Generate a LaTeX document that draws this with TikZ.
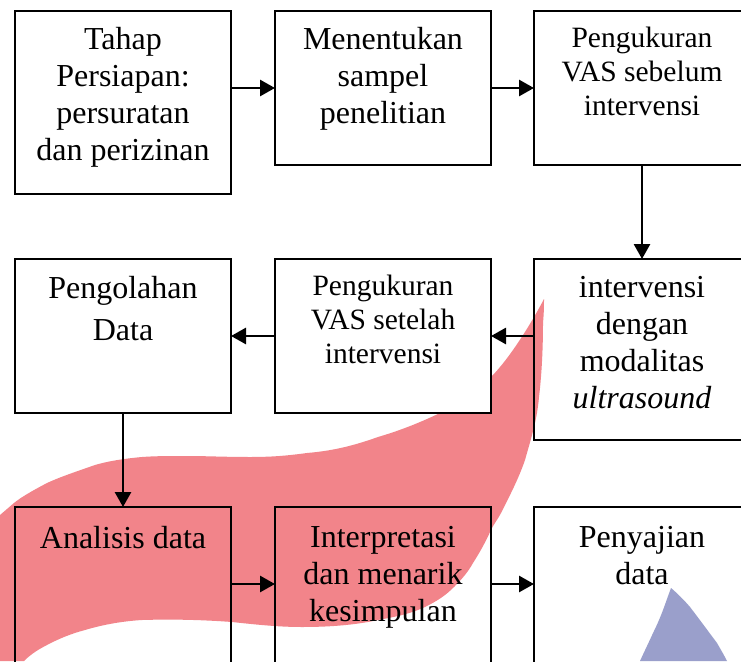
\documentclass[tikz,border=0pt]{standalone}
\usepackage{fontspec}
\setmainfont{Liberation Serif}
\usetikzlibrary{arrows.meta}
\definecolor{ribbon}{HTML}{F2848A}
\definecolor{drop}{HTML}{9A9FCB}
\newcommand{\bigtxt}{\fontsize{32}{37}\selectfont}
\newcommand{\smalltxt}{\fontsize{29.5}{33.7}\selectfont}
\tikzset{
 boxnode/.style={draw=black,line width=2.8pt,minimum width=216pt,inner sep=0pt,outer sep=0pt,anchor=north west},
 txtbig/.style={anchor=north,align=center,inner sep=0pt,font=\bigtxt},
 txtsmall/.style={anchor=north,align=center,inner sep=0pt,font=\smalltxt},
 flow/.style={draw=black,line width=2.8pt,-{Triangle[length=15pt,width=16pt]}},
}
\begin{document}
\begin{tikzpicture}[x=1pt,y=-1pt]
\useasboundingbox (0,0) rectangle (741,661);
\clip (0,0) rectangle (741,661);
\fill[white] (0,0) rectangle (741,661);
% ribbon
\fill[ribbon] (544,299) .. controls (532,322) and (510,358) .. (491,377)
 .. controls (470,395) and (455,405) .. (440,413)
 .. controls (415,425) and (395,432) .. (378,437)
 .. controls (350,447) and (330,451) .. (307,453)
 .. controls (285,456) and (270,457) .. (250,457)
 .. controls (225,457) and (205,456) .. (189,456)
 .. controls (170,456) and (155,456) .. (142,457)
 .. controls (120,459) and (105,462) .. (95,465)
 .. controls (75,472) and (60,477) .. (47,483)
 .. controls (30,492) and (20,498) .. (14,503)
 -- (0,515) -- (0,661) -- (24,661)
 .. controls (30,655) and (35,652) .. (38,650)
 .. controls (55,640) and (70,634) .. (85,630)
 .. controls (105,624) and (125,621) .. (142,620)
 .. controls (175,619) and (205,620) .. (232,622)
 .. controls (260,625) and (280,627) .. (302,627)
 .. controls (330,627) and (355,625) .. (378,620)
 .. controls (400,616) and (412,613) .. (425,607)
 .. controls (437,601) and (445,596) .. (454,587)
 .. controls (462,579) and (468,572) .. (473,563)
 .. controls (480,552) and (485,543) .. (491,530)
 .. controls (495,522) and (498,519) .. (501,513)
 .. controls (510,495) and (518,480) .. (525,460)
 .. controls (532,435) and (537,420) .. (539,397)
 .. controls (542,372) and (543,345) .. (543,323)
 .. controls (544,312) and (544,305) .. (544,299) -- cycle;
% drop
\fill[drop] (671,588) .. controls (677,593) and (684,600) .. (690,607)
 .. controls (700,620) and (708,631) .. (717,643)
 .. controls (721,650) and (724,655) .. (727,661)
 -- (640,661) .. controls (645,650) and (649,642) .. (653,633)
 .. controls (657,625) and (660,618) .. (663,610)
 .. controls (666,602) and (668,596) .. (671,588) -- cycle;
% boxes
\node[boxnode,minimum height=183pt] (persiapan) at (15,11) {};
\node[boxnode,minimum height=154pt] (sampel) at (275,11) {};
\node[boxnode,minimum height=154pt] (sebelum) at (534,11) {};
\node[boxnode,minimum height=154pt] (olah) at (15,259) {};
\node[boxnode,minimum height=154pt,fill=white] (setelah) at (275,259) {};
\node[boxnode,minimum height=181pt] (usg) at (534,259) {};
\node[boxnode,minimum height=160pt] (analisis) at (15,507) {};
\node[boxnode,minimum height=160pt] (interpretasi) at (275,507) {};
\node[boxnode,minimum height=160pt] (sajian) at (534,507) {};
% texts
\node[txtbig] (t1) at (123,27) {Tahap\\Persiapan:\\persuratan\\dan perizinan};
\node[txtbig] (t2) at (383,27) {Menentukan\\sampel\\penelitian};
\node[txtsmall] (t3) at (642,27) {Pengukuran\\VAS sebelum\\intervensi};
\node[txtbig] (t4) at (123,276) {Pengolahan\\[5pt]Data};
\node[txtsmall] (t5) at (383,275) {Pengukuran\\VAS setelah\\intervensi};
\node[txtbig] (t6) at (642,276) {intervensi\\dengan\\modalitas\\\textit{ultrasound}};
\node[txtbig] (t7) at (123,526) {Analisis data};
\node[txtbig] (t8) at (383,526) {Interpretasi\\dan menarik\\kesimpulan};
\node[txtbig] (t9) at (642,526) {Penyajian\\data};
% connectors
\coordinate (r3a) at (231,584);
\coordinate (r3b) at (275,584);
\coordinate (r3c) at (491,584);
\coordinate (r3d) at (534,584);
\draw[flow] (persiapan.east |- sampel.west) -- (sampel.west);
\draw[flow] (sampel.east) -- (sebelum.west);
\draw[flow] (sebelum.south) -- (usg.north);
\draw[flow] (usg.west |- setelah.east) -- (setelah.east);
\draw[flow] (setelah.west) -- (olah.east);
\draw[flow] (olah.south) -- (analisis.north);
\draw[flow] (r3a) -- (r3b);
\draw[flow] (r3c) -- (r3d);
\end{tikzpicture}
\end{document}
